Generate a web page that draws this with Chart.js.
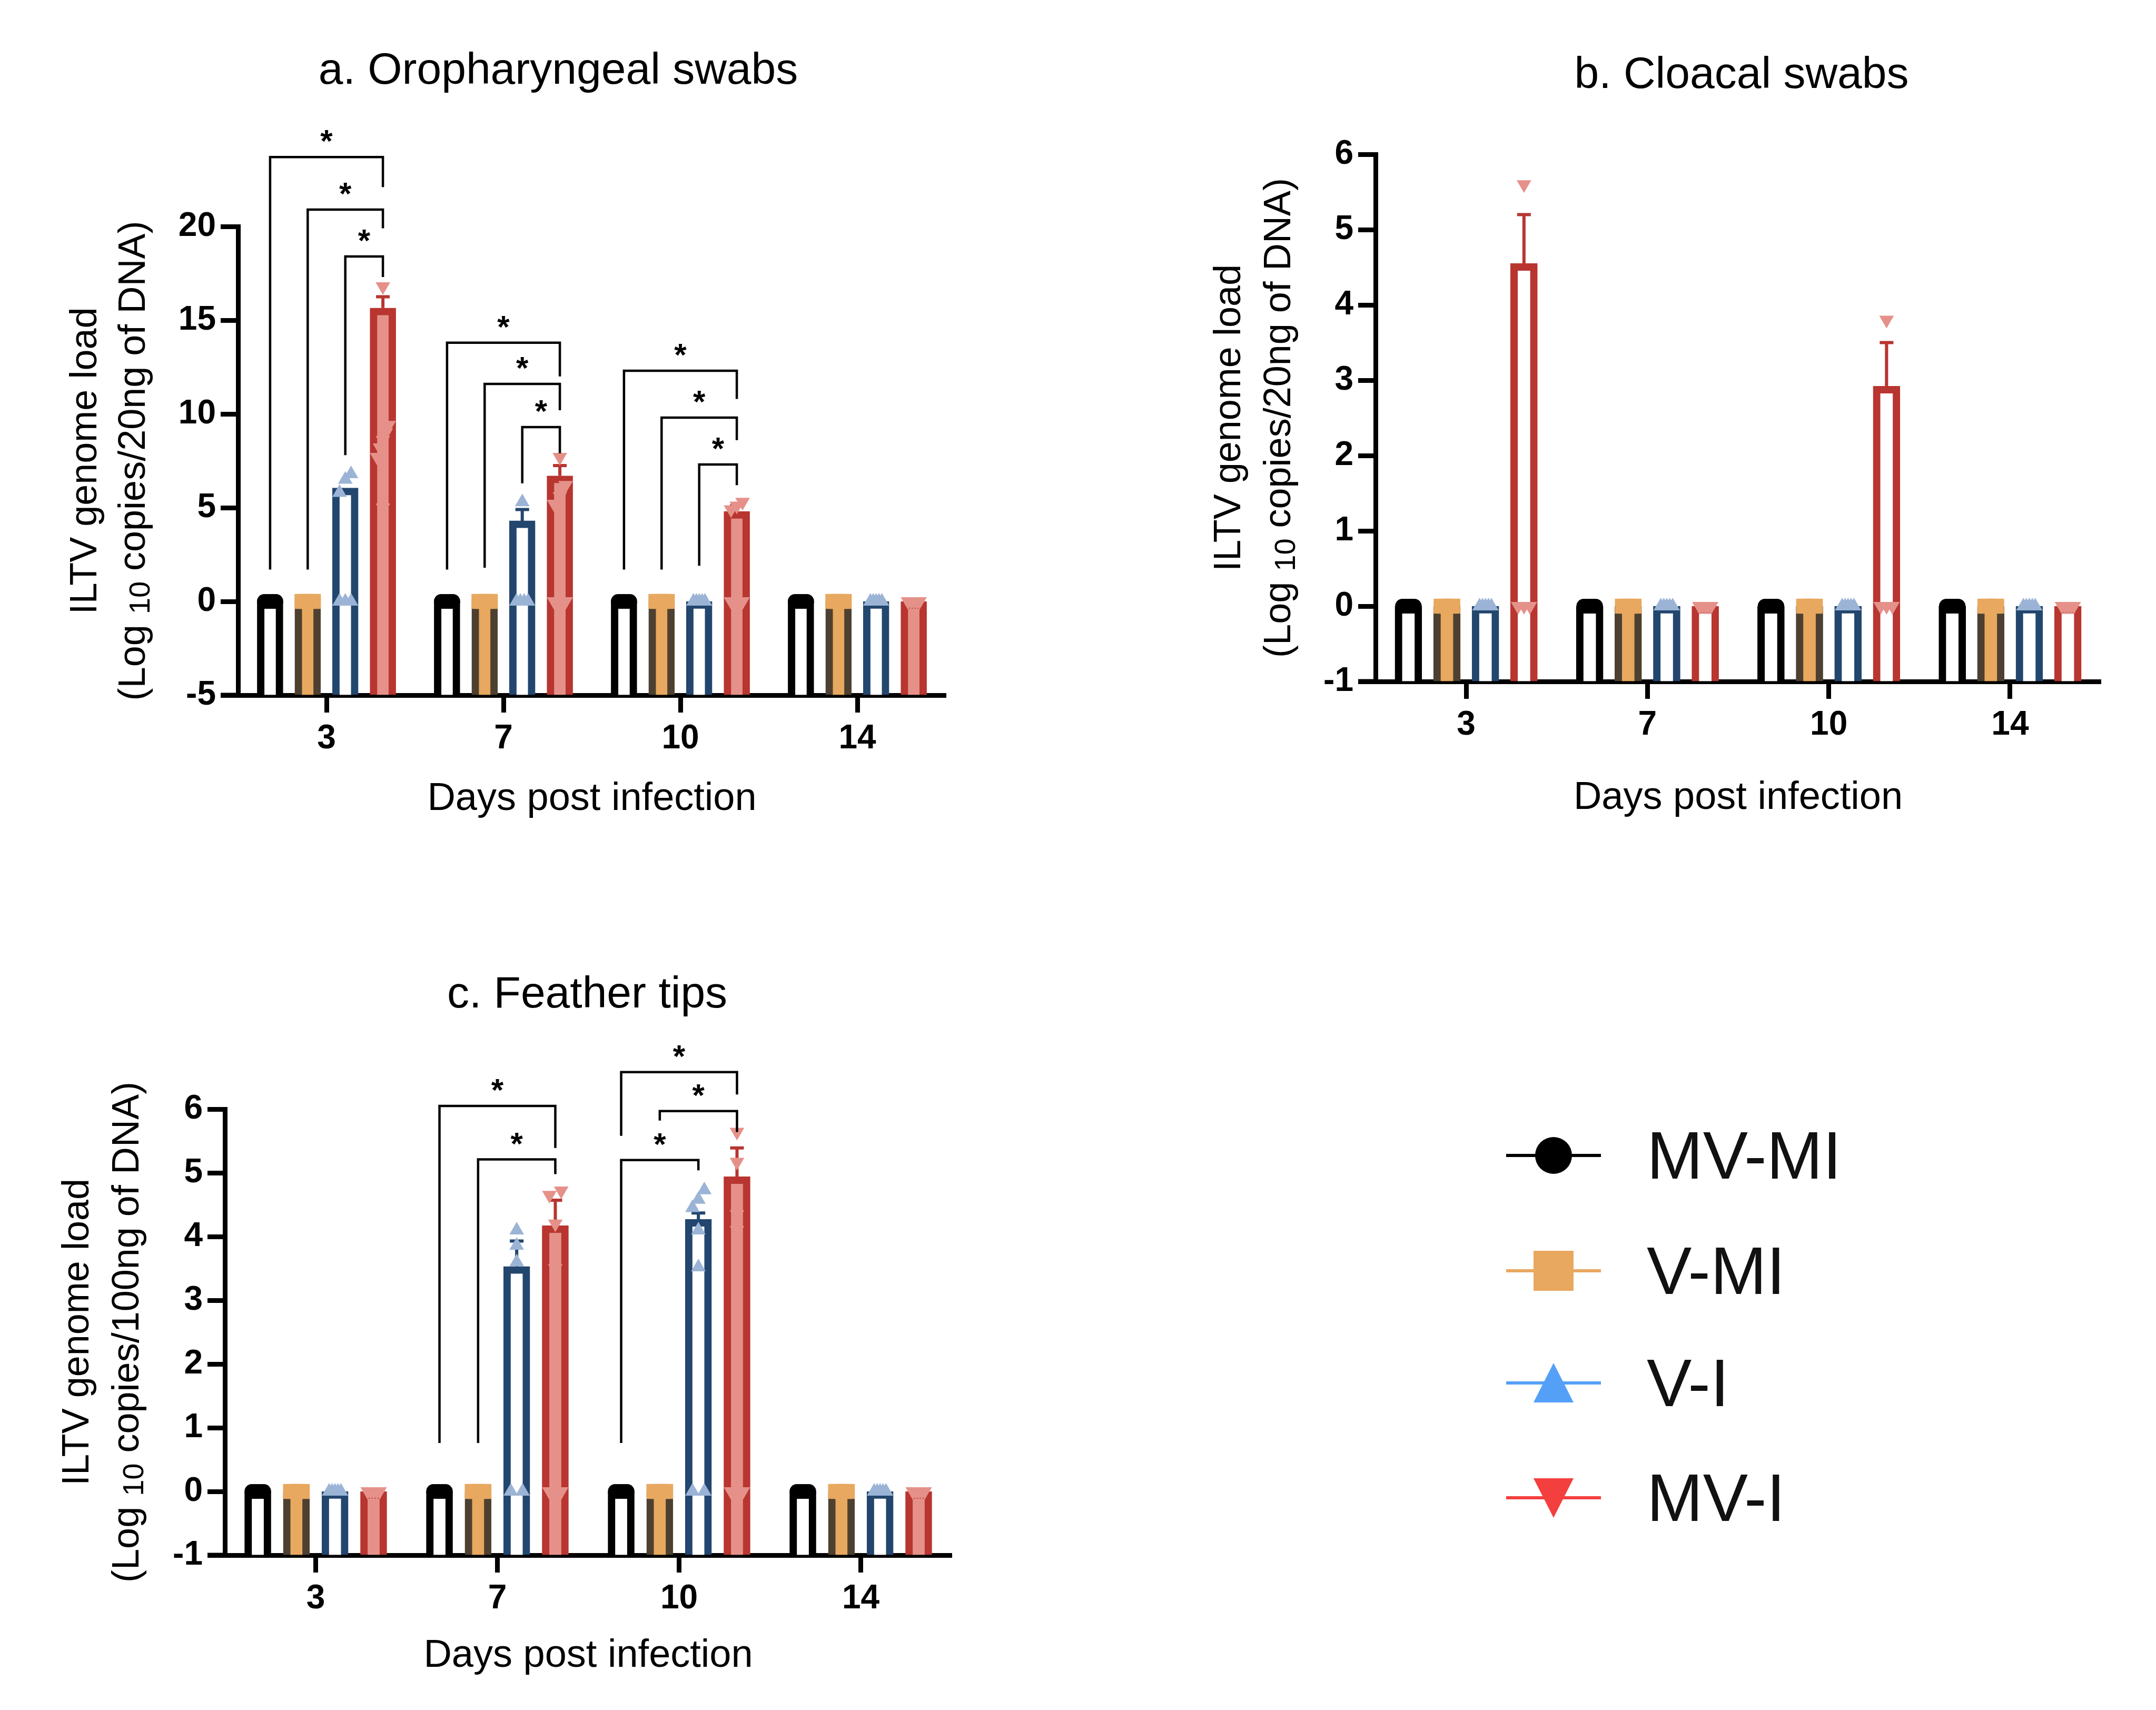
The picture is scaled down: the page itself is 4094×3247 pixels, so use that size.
<!DOCTYPE html>
<html>
<head>
<meta charset="utf-8">
<script src="https://cdn.jsdelivr.net/npm/chart.js@4.4.1/dist/chart.umd.min.js"></script>
<style>
  html, body { margin: 0; padding: 0; background: #fff; }
  #page { position: relative; width: 4094px; height: 3247px; background: #fff; overflow: hidden; }
  canvas { position: absolute; }
  #chartA { left: 0; top: 0; }
  #chartB { left: 2200px; top: 0; }
  #chartC { left: 0; top: 1700px; }
  .legend-row { position: absolute; left: 2855px; height: 120px; width: 900px; }
  .legend-row svg { position: absolute; left: 0; top: 0; }
  .legend-row span { position: absolute; left: 272px; top: 0; line-height: 120px; font-size: 128px;
    font-family: "Liberation Sans", Arial, sans-serif; color: #111; white-space: nowrap; }
</style>
</head>
<body>
<div id="page">
  <canvas id="chartA" width="1900" height="1650"></canvas>
  <canvas id="chartB" width="1894" height="1650"></canvas>
  <canvas id="chartC" width="1900" height="1547"></canvas>
  <div id="legend"></div>
</div>
<script>
const days = ["3", "7", "10", "14"];
const groups = ["MV-MI", "V-MI", "V-I", "MV-I"];

// a. Oropharyngeal swabs: bar heights (one value per day)
const oroMVMI = [0, 0, 0, 0];
const oroVMI = [0, 0, 0, 0];
const oroVI = [6.05, 4.3, 0, 0];
const oroMVI = [15.65, 6.7, 4.8, 0];
// upper error bars
const oroErrVI = [0, 0.6, 0, 0];
const oroErrMVI = [0.6, 0.55, 0.3, 0];
// individual birds, per day
const oroPtsMVMI = [[0, 0, 0, 0, 0], [0, 0, 0, 0, 0], [0, 0, 0, 0, 0], [0, 0, 0, 0, 0]];
const oroPtsVMI = [[0, 0, 0, 0, 0], [0, 0, 0, 0, 0], [0, 0, 0, 0, 0], [0, 0, 0, 0, 0]];
const oroPtsVI = [[6.8, 6.5, 5.8, 0, 0, 0], [5.3, 0, 0, 0, 0], [0, 0, 0, 0, 0], [0, 0, 0, 0, 0]];
const oroPtsMVI = [[16.8, 9.4, 9.0, 8.6, 8.2, 7.7, 5.0], [7.7, 6.2, 5.6, 5.2, 0, 0], [5.3, 5.1, 4.9, 0, 0], [0, 0, 0, 0, 0]];
// significance brackets: [day, from group, to group, top, left leg end, right leg end]
const oroBrackets = [
  [0, 0, 3, 23.7, 1.7, 22.1], [0, 1, 3, 20.9, 1.7, 19.9], [0, 2, 3, 18.4, 7.8, 17.3],
  [1, 0, 3, 13.8, 1.7, 12.0], [1, 1, 3, 11.6, 1.8, 10.2], [1, 2, 3, 9.3, 6.3, 7.9],
  [2, 0, 3, 12.3, 1.7, 10.8], [2, 1, 3, 9.8, 1.7, 8.6], [2, 2, 3, 7.3, 1.9, 6.2]
];

// b. Cloacal swabs
const cloMVMI = [0, 0, 0, 0];
const cloVMI = [0, 0, 0, 0];
const cloVI = [0, 0, 0, 0];
const cloMVI = [4.55, 0, 2.92, 0];
const cloErrMVI = [0.65, 0, 0.58, 0];
const cloPtsMVMI = [[0, 0, 0, 0, 0], [0, 0, 0, 0, 0], [0, 0, 0, 0, 0], [0, 0, 0, 0, 0]];
const cloPtsVMI = [[0, 0, 0, 0, 0], [0, 0, 0, 0, 0], [0, 0, 0, 0, 0], [0, 0, 0, 0, 0]];
const cloPtsVI = [[0, 0, 0, 0, 0], [0, 0, 0, 0, 0], [0, 0, 0, 0, 0], [0, 0, 0, 0, 0]];
const cloPtsMVI = [[5.6, 0, 0, 0], [0, 0, 0, 0, 0], [3.8, 0, 0, 0], [0, 0, 0, 0, 0]];

// c. Feather tips
const feaMVMI = [0, 0, 0, 0];
const feaVMI = [0, 0, 0, 0];
const feaVI = [0, 3.53, 4.27, 0];
const feaMVI = [0, 4.17, 4.94, 0];
const feaErrVI = [0, 0.4, 0.1, 0];
const feaErrMVI = [0, 0.4, 0.45, 0];
const feaPtsMVMI = [[0, 0, 0, 0, 0], [0, 0, 0, 0, 0], [0, 0, 0, 0, 0], [0, 0, 0, 0, 0]];
const feaPtsVMI = [[0, 0, 0, 0, 0], [0, 0, 0, 0, 0], [0, 0, 0, 0, 0], [0, 0, 0, 0, 0]];
const feaPtsVI = [[0, 0, 0, 0, 0], [4.1, 3.86, 3.6, 0, 0], [4.73, 4.58, 4.45, 4.1, 3.52, 0, 0], [0, 0, 0, 0, 0]];
const feaPtsMVI = [[0, 0, 0, 0, 0], [4.72, 4.65, 4.2, 3.5, 0, 0], [5.64, 5.17, 4.35, 4.1, 0, 0], [0, 0, 0, 0, 0]];
const feaBrackets = [
  [1, 0, 3, 6.05, 0.76, 5.39], [1, 1, 3, 5.21, 0.76, 4.98],
  [2, 0, 3, 6.58, 5.58, 6.23], [2, 1, 3, 5.97, 5.82, 5.64], [2, 0, 2, 5.20, 0.76, 5.04]
];

const FONT = '"Liberation Sans", Arial, sans-serif';
const CAT_PCT = 0.85; // share of a day slot taken by the 4 bars

const barBorder = ["#000000", "#4d4030", "#22466e", "#b83530"];
const pointColor = ["#000000", "#e8a860", "#9bb4d6", "#e5918a"];
const markerStyle = ["circle", "rect", "triangle", "triangle"];
const markerRot = [0, 0, 0, 180];
const markerRadius = [14, 20, 16, 16];
const legendColor = ["#000000", "#e8a860", "#55a0f7", "#f43f3f"];

// x position of group k inside a day slot, in day units
function groupX(day, k) {
  return day + (k - 1.5) * CAT_PCT / 4;
}

// spread points with (almost) the same value side by side, like a dot plot
function spreadPoints(perDay, k, tol) {
  const out = [];
  perDay.forEach((vals, day) => {
    const sorted = vals.slice().sort((a, b) => a - b);
    const clusters = [];
    sorted.forEach(v => {
      const last = clusters[clusters.length - 1];
      if (last && v - last[last.length - 1] < tol) last.push(v);
      else clusters.push([v]);
    });
    clusters.forEach(c => c.forEach((v, i) => {
      const off = c.length > 1 ? (i / (c.length - 1) - 0.5) * 0.065 : 0;
      out.push({ x: groupX(day, k) + off, y: v });
    }));
  });
  return out;
}

function buildDatasets(p) {
  const sets = [];
  groups.forEach((g, k) => {
    sets.push({
      type: "bar",
      label: g,
      data: p.means[k].map((v, day) => ({ x: groupX(day, k), y: v })),
      errors: p.errs[k],
      base: p.yMin,
      xAxisID: "xp",
      yAxisID: "y",
      order: 2,
      grouped: false,
      barThickness: p.barPx,
      backgroundColor: p.fills[k],
      borderColor: barBorder[k],
      borderWidth: 14,
      borderSkipped: "start"
    });
  });
  groups.forEach((g, k) => {
    sets.push({
      type: "scatter",
      label: g,
      data: spreadPoints(p.points[k], k, (p.yMax - p.yMin) * 0.03),
      xAxisID: "xp",
      yAxisID: "y",
      order: 1,
      pointStyle: markerStyle[k],
      rotation: markerRot[k],
      pointRadius: markerRadius[k],
      pointBackgroundColor: pointColor[k],
      pointBorderWidth: 0
    });
  });
  return sets;
}

function drawRotatedTitle(ctx, x, cy, parts) {
  ctx.save();
  ctx.translate(x, cy);
  ctx.rotate(-Math.PI / 2);
  ctx.fillStyle = "#000";
  ctx.textBaseline = "middle";
  ctx.textAlign = "left";
  let total = 0;
  parts.forEach(pt => {
    ctx.font = (pt.sub ? 56 : 72) + "px " + FONT;
    pt.w = ctx.measureText(pt.text).width;
    total += pt.w;
  });
  let cx = -total / 2;
  parts.forEach(pt => {
    ctx.font = (pt.sub ? 56 : 72) + "px " + FONT;
    ctx.fillText(pt.text, cx, pt.sub ? 14 : 0);
    cx += pt.w;
  });
  ctx.restore();
}

const panelDecor = {
  id: "panelDecor",
  // error bars right after each bar dataset, under the points
  afterDatasetDraw(chart, args) {
    const ds = chart.data.datasets[args.index];
    if (ds.type !== "bar" || !ds.errors) return;
    const ctx = chart.ctx;
    const y = chart.scales.y;
    ctx.save();
    ctx.strokeStyle = ds.borderColor;
    ctx.lineWidth = 6;
    args.meta.data.forEach((bar, i) => {
      const e = ds.errors[i];
      if (!e) return;
      const v = ds.data[i].y;
      const y0 = y.getPixelForValue(v);
      const y1 = y.getPixelForValue(v + e);
      ctx.beginPath();
      ctx.moveTo(bar.x, y0);
      ctx.lineTo(bar.x, y1);
      ctx.moveTo(bar.x - 13, y1);
      ctx.lineTo(bar.x + 13, y1);
      ctx.stroke();
    });
    ctx.restore();
  },
  afterDraw(chart, args, o) {
    const ctx = chart.ctx;
    const area = chart.chartArea;
    const y = chart.scales.y;
    ctx.save();
    // x axis line runs a little left of the y axis
    ctx.fillStyle = "#000";
    ctx.fillRect(area.left - 33, area.bottom - 4.5, 34, 9);

    // brackets with stars
    ctx.strokeStyle = "#000";
    ctx.lineWidth = 4.5;
    (o.brackets || []).forEach(b => {
      const x1 = chart.getDatasetMeta(b[1]).data[b[0]].x;
      const x2 = chart.getDatasetMeta(b[2]).data[b[0]].x;
      const yt = y.getPixelForValue(b[3]);
      ctx.beginPath();
      ctx.moveTo(x1, y.getPixelForValue(b[4]));
      ctx.lineTo(x1, yt);
      ctx.lineTo(x2, yt);
      ctx.lineTo(x2, y.getPixelForValue(b[5]));
      ctx.stroke();
      ctx.font = "bold 60px " + FONT;
      ctx.textAlign = "center";
      ctx.textBaseline = "alphabetic";
      ctx.fillText("*", (x1 + x2) / 2, yt - 10);
    });

    // panel title and x title
    ctx.textAlign = "center";
    ctx.textBaseline = "middle";
    ctx.font = "84px " + FONT;
    ctx.fillText(o.title, o.titleX, o.titleY);
    ctx.font = "74px " + FONT;
    ctx.fillText("Days post infection", (area.left + area.right) / 2, o.xTitleY);
    ctx.restore();

    // y title, two lines with subscript 10
    const cy = (area.top + area.bottom) / 2;
    drawRotatedTitle(ctx, o.yTitleX1, cy, [{ text: "ILTV genome load" }]);
    drawRotatedTitle(ctx, o.yTitleX2, cy, [
      { text: "(Log " }, { text: "10", sub: true }, { text: " " + o.yUnit + ")" }
    ]);
  }
};

function makePanel(id, p) {
  const axisGrid = {
    display: true,
    drawOnChartArea: false,
    drawTicks: true,
    tickLength: 33,
    tickWidth: 9,
    color: "#000",
    offset: false
  };
  return new Chart(document.getElementById(id), {
    type: "bar",
    data: { labels: days, datasets: buildDatasets(p) },
    plugins: [panelDecor],
    options: {
      responsive: false,
      devicePixelRatio: 1,
      animation: false,
      events: [],
      layout: { padding: { top: p.top, right: p.right, left: 0, bottom: 0 } },
      scales: {
        x: {
          type: "category",
          offset: true,
          z: 1,
          grid: axisGrid,
          border: { display: true, color: "#000", width: 9 },
          ticks: {
            color: "#000",
            padding: 12,
            maxRotation: 0,
            font: { family: FONT, size: 64, weight: "bold" }
          },
          afterFit: s => { s.height = p.xHeight; }
        },
        xp: {
          type: "linear",
          display: false,
          offset: false,
          bounds: "data",
          min: -0.5,
          max: 3.5,
          grid: { offset: false }
        },
        y: {
          min: p.yMin,
          max: p.yMax,
          z: 1,
          grid: axisGrid,
          border: { display: true, color: "#000", width: 9 },
          ticks: {
            stepSize: p.yStep,
            color: "#000",
            padding: 9,
            font: { family: FONT, size: 64, weight: "bold" }
          },
          afterFit: s => { s.width = p.yWidth; }
        }
      },
      plugins: {
        legend: { display: false },
        tooltip: { enabled: false },
        panelDecor: {
          title: p.title, titleX: p.titleX, titleY: p.titleY, xTitleY: p.xTitleY,
          yTitleX1: p.yTitleX1, yTitleX2: p.yTitleX2, yUnit: p.yUnit, brackets: p.brackets
        }
      }
    }
  });
}

makePanel("chartA", {
  means: [oroMVMI, oroVMI, oroVI, oroMVI],
  errs: [null, null, oroErrVI, oroErrMVI],
  points: [oroPtsMVMI, oroPtsVMI, oroPtsVI, oroPtsMVI],
  fills: ["#ffffff", "#e8a860", "#ffffff", "#e5918a"],
  brackets: oroBrackets,
  yMin: -5, yMax: 20, yStep: 5, barPx: 49,
  top: 430, right: 104, yWidth: 452, xHeight: 330,
  title: "a. Oropharyngeal swabs", titleX: 1060, titleY: 136, xTitleY: 1518,
  yTitleX1: 163, yTitleX2: 255, yUnit: "copies/20ng of DNA"
});

makePanel("chartB", {
  means: [cloMVMI, cloVMI, cloVI, cloMVI],
  errs: [null, null, null, cloErrMVI],
  points: [cloPtsMVMI, cloPtsVMI, cloPtsVI, cloPtsMVI],
  fills: ["#ffffff", "#e8a860", "#ffffff", "#ffffff"],
  brackets: [],
  yMin: -1, yMax: 6, yStep: 1, barPx: 51,
  top: 293, right: 105, yWidth: 412, xHeight: 356,
  title: "b. Cloacal swabs", titleX: 1107, titleY: 144, xTitleY: 1516,
  yTitleX1: 135, yTitleX2: 230, yUnit: "copies/20ng of DNA"
});

makePanel("chartC", {
  means: [feaMVMI, feaVMI, feaVI, feaMVI],
  errs: [null, null, feaErrVI, feaErrMVI],
  points: [feaPtsMVMI, feaPtsVMI, feaPtsVI, feaPtsMVI],
  fills: ["#ffffff", "#e8a860", "#ffffff", "#e5918a"],
  brackets: feaBrackets,
  yMin: -1, yMax: 6, yStep: 1, barPx: 50,
  top: 406, right: 93, yWidth: 427, xHeight: 294,
  title: "c. Feather tips", titleX: 1115, titleY: 190, xTitleY: 1445,
  yTitleX1: 148, yTitleX2: 243, yUnit: "copies/100ng of DNA"
});

// legend: line with marker, then the group name
const legendRows = [2194, 2413, 2626, 2844];
const legendBox = document.getElementById("legend");
groups.forEach((g, k) => {
  const c = legendColor[k];
  let marker = "";
  if (k === 0) marker = '<circle cx="95" cy="60" r="35" fill="' + c + '"/>';
  if (k === 1) marker = '<rect x="57" y="22" width="76" height="76" fill="' + c + '"/>';
  if (k === 2) marker = '<polygon points="95,22 133,97 57,97" fill="' + c + '"/>';
  if (k === 3) marker = '<polygon points="57,23 133,23 95,98" fill="' + c + '"/>';
  const row = document.createElement("div");
  row.className = "legend-row";
  row.style.top = (legendRows[k] - 60) + "px";
  row.innerHTML = '<svg width="200" height="120" viewBox="0 0 200 120">' +
    '<line x1="5" y1="60" x2="185" y2="60" stroke="' + c + '" stroke-width="6"/>' + marker +
    '</svg><span>' + g + '</span>';
  legendBox.appendChild(row);
});
</script>
</body>
</html>
